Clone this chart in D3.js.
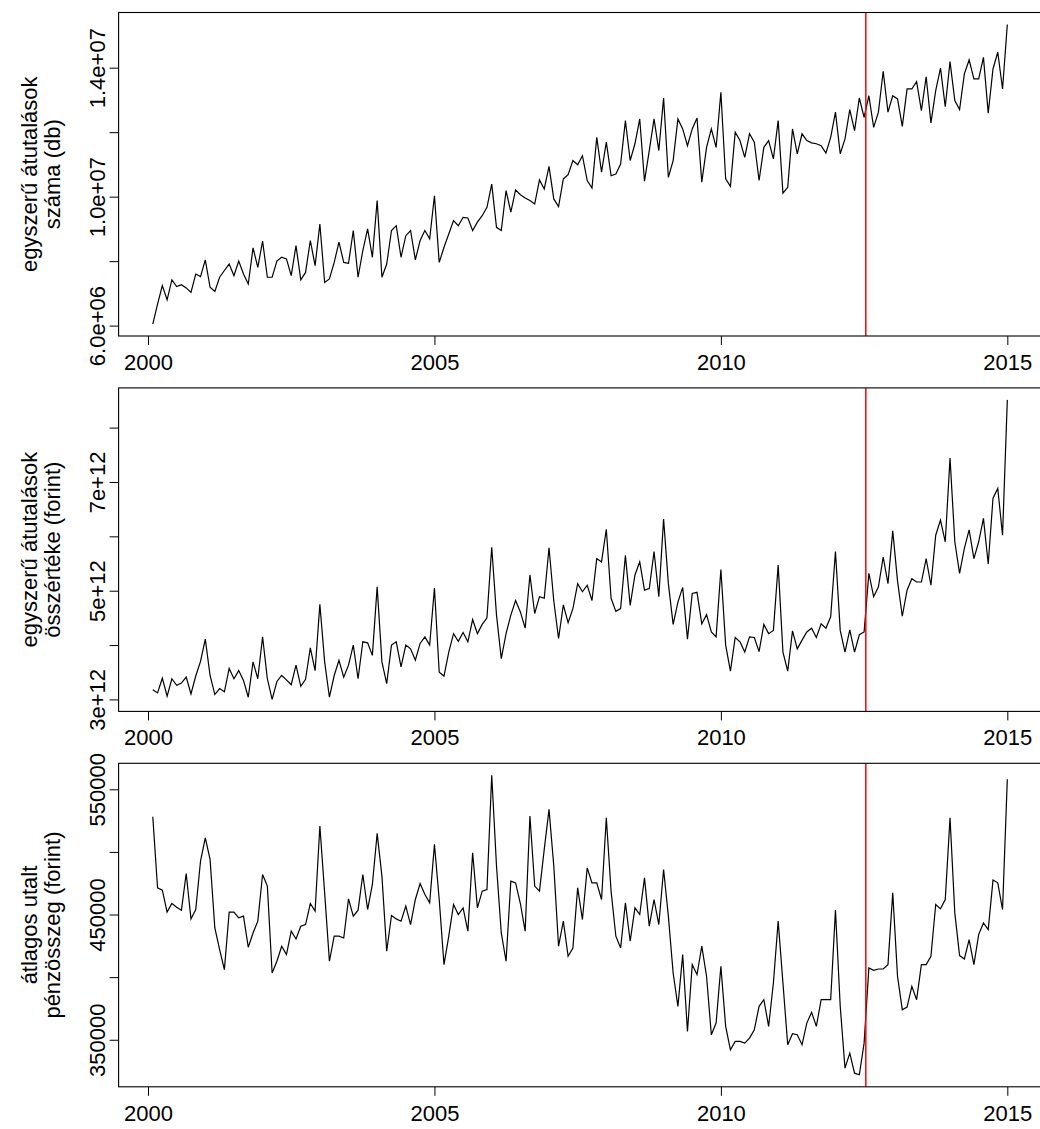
<!DOCTYPE html>
<html>
<head>
<meta charset="utf-8">
<script src="https://cdn.jsdelivr.net/npm/d3@7"></script>
<style>
body { margin: 0; background: #fff; }
svg text { font-family: "Liberation Sans", Arial, sans-serif; font-size: 22px; fill: #000; }
</style>
</head>
<body>
<div class="chart"></div>
<script>
// havi adatok, 2000 február - 2015 január
const startYear = 2000, startMonth = 2;

// egyszerű átutalások száma (millió db)
const countMillion = [
	6.05, 6.67, 7.24, 6.80, 7.42, 7.21, 7.27, 7.17, 7.03, 7.60, 7.52, 8.04,
	7.19, 7.06, 7.50, 7.71, 7.91, 7.55, 8.00, 7.60, 7.29, 8.41, 7.81, 8.62,
	7.50, 7.50, 8.00, 8.12, 8.07, 7.55, 8.48, 7.42, 7.65, 8.64, 7.86, 9.15,
	7.34, 7.45, 7.96, 8.59, 7.96, 7.93, 8.95, 7.50, 8.33, 9.00, 8.12, 9.88,
	7.50, 7.91, 8.95, 9.10, 8.12, 8.79, 8.95, 8.04, 8.64, 8.95, 8.69, 10.03,
	7.96, 8.43, 8.84, 9.26, 9.10, 9.36, 9.34, 8.95, 9.21, 9.41, 9.67, 10.39,
	9.05, 8.95, 10.19, 9.52, 10.21, 10.06, 9.96, 9.88, 9.77, 10.52, 10.24, 10.94,
	9.93, 9.69, 10.55, 10.68, 11.12, 10.99, 11.27, 10.50, 10.27, 11.84, 10.76, 11.69,
	10.65, 10.70, 11.01, 12.36, 11.12, 11.64, 12.41, 10.48, 11.43, 12.41, 11.43, 13.06,
	10.60, 11.12, 12.41, 12.10, 11.58, 12.10, 12.44, 10.45, 11.53, 12.10, 11.53, 13.24,
	10.55, 10.32, 12.00, 11.74, 11.22, 11.95, 11.69, 10.50, 11.53, 11.74, 11.17, 12.36,
	10.11, 10.29, 12.10, 11.33, 11.95, 11.74, 11.67, 11.64, 11.58, 11.35, 11.84, 12.62,
	11.33, 11.79, 12.70, 12.05, 13.06, 12.46, 13.13, 12.15, 12.62, 13.89, 12.62, 13.13,
	13.03, 12.18, 13.34, 13.34, 13.57, 12.67, 13.72, 12.29, 13.29, 13.99, 12.79, 14.19,
	12.98, 12.70, 13.81, 14.24, 13.65, 13.65, 14.32, 12.59, 13.96, 14.48, 13.34, 15.34
];

// egyszerű átutalások összértéke (ezer milliárd forint)
const sumTrillion = [
	3.18, 3.12, 3.39, 3.06, 3.38, 3.26, 3.30, 3.41, 3.10, 3.43, 3.70, 4.11,
	3.44, 3.09, 3.20, 3.14, 3.57, 3.38, 3.53, 3.35, 3.04, 3.69, 3.38, 4.15,
	3.38, 3.00, 3.33, 3.44, 3.36, 3.27, 3.63, 3.24, 3.37, 3.95, 3.53, 4.75,
	3.69, 3.04, 3.44, 3.72, 3.41, 3.63, 4.00, 3.38, 4.06, 4.04, 3.81, 5.07,
	3.69, 3.29, 4.00, 4.06, 3.60, 4.00, 3.93, 3.72, 4.03, 4.15, 4.00, 5.05,
	3.50, 3.43, 3.87, 4.21, 4.07, 4.23, 4.06, 4.47, 4.21, 4.38, 4.50, 5.80,
	4.55, 3.75, 4.21, 4.55, 4.82, 4.61, 4.31, 5.29, 4.58, 4.89, 4.86, 5.79,
	4.81, 4.12, 4.74, 4.41, 4.67, 5.13, 4.98, 5.10, 4.82, 5.59, 5.53, 6.13,
	4.86, 4.62, 4.67, 5.65, 4.73, 5.29, 5.53, 5.01, 5.04, 5.72, 4.89, 6.32,
	5.13, 4.38, 4.79, 5.06, 4.11, 4.95, 4.97, 4.39, 4.56, 4.24, 4.15, 5.39,
	4.00, 3.52, 4.14, 4.06, 3.87, 4.15, 4.14, 3.88, 4.38, 4.21, 4.27, 5.47,
	3.87, 3.52, 4.26, 3.93, 4.09, 4.24, 4.31, 4.14, 4.39, 4.31, 4.52, 5.72,
	4.27, 3.87, 4.28, 3.87, 4.19, 4.24, 5.32, 4.89, 5.07, 5.62, 5.13, 6.10,
	5.18, 4.53, 5.01, 5.22, 5.16, 5.16, 5.59, 5.10, 6.02, 6.30, 5.90, 7.44,
	5.90, 5.32, 5.78, 6.12, 5.59, 5.90, 6.33, 5.49, 6.70, 6.88, 6.02, 8.51
];

// átlagos utalt pénzösszeg (ezer forint)
const avgThousand = [
	528.1, 471.3, 469.5, 451.9, 458.8, 455.9, 453.5, 482.8, 446.5, 454.0, 492.7, 511.3,
	494.0, 439.3, 422.0, 406.0, 451.9, 451.9, 447.3, 448.7, 423.9, 435.3, 444.7, 482.0,
	472.7, 403.3, 412.7, 424.7, 418.0, 436.7, 430.5, 440.7, 442.0, 458.8, 452.7, 520.7,
	467.3, 412.7, 432.7, 432.7, 431.3, 462.5, 448.7, 453.5, 482.0, 454.0, 474.0, 514.8,
	480.7, 420.7, 449.2, 446.5, 444.7, 456.7, 442.0, 462.0, 474.8, 466.0, 459.3, 506.0,
	462.0, 410.0, 432.7, 458.0, 450.0, 455.3, 436.7, 499.3, 455.3, 468.7, 470.0, 561.2,
	488.7, 435.3, 412.7, 476.7, 475.3, 458.8, 436.7, 528.7, 472.7, 468.7, 502.0, 534.0,
	488.7, 424.7, 444.7, 416.7, 423.3, 471.3, 446.0, 487.3, 475.3, 475.3, 462.0, 527.3,
	468.7, 432.7, 423.3, 459.3, 428.7, 455.3, 450.0, 479.3, 440.7, 462.0, 442.0, 486.0,
	448.7, 403.3, 376.7, 418.0, 356.7, 410.0, 402.0, 424.7, 400.7, 354.0, 363.3, 408.7,
	360.7, 342.0, 348.7, 348.7, 347.3, 351.3, 358.0, 376.7, 382.0, 360.7, 395.3, 444.7,
	395.3, 346.0, 354.8, 354.0, 346.0, 363.3, 371.9, 360.7, 382.0, 382.0, 382.0, 453.5,
	376.7, 327.3, 339.3, 323.3, 322.0, 347.3, 407.3, 405.5, 406.5, 406.5, 410.0, 467.3,
	400.7, 374.0, 376.1, 392.7, 382.0, 410.0, 410.0, 416.7, 458.0, 454.5, 462.0, 527.3,
	451.3, 417.2, 414.5, 430.0, 410.0, 434.0, 443.3, 438.0, 477.5, 475.3, 454.0, 558.0
];

const xTicks = [2000, 2005, 2010, 2015];
const breakYear = 2012.53;

const countTicks = [6e6, 8e6, 1e7, 1.2e7, 1.4e7];
const countTickLabels = ["6.0e+06", "", "1.0e+07", "", "1.4e+07"];
const sumTicks = [3e12, 4e12, 5e12, 6e12, 7e12, 8e12];
const sumTickLabels = ["3e+12", "", "5e+12", "", "7e+12", ""];
const avgTicks = [350000, 400000, 450000, 500000, 550000];
const avgTickLabels = ["350000", "", "450000", "", "550000"];

const times = countMillion.map((d, i) => startYear + (startMonth - 1 + i) / 12);

const panels = [
	{ label: ["egyszerű átutalások", "száma (db)"], values: countMillion.map(d => d * 1e6), ticks: countTicks, tickLabels: countTickLabels },
	{ label: ["egyszerű átutalások", "összértéke (forint)"], values: sumTrillion.map(d => d * 1e12), ticks: sumTicks, tickLabels: sumTickLabels },
	{ label: ["átlagos utalt", "pénzösszeg (forint)"], values: avgThousand.map(d => d * 1e3), ticks: avgTicks, tickLabels: avgTickLabels }
];

const width = 1040;
const height = 1129;
const svg = d3.select('.chart')
	.append('svg')
	.attr('width', width)
	.attr('height', height);

const left = 118.6, right = 1041.5;
// R style 4% extension of the data range
const pad = (a, b) => [a - 0.04 * (b - a), b + 0.04 * (b - a)];

const x = d3.scaleLinear()
	.domain(pad(d3.min(times), d3.max(times)))
	.range([left, right]);

panels.forEach((p, k) => {
	const top = 12.5 + k * 375.4;
	const bottom = top + 323.5;
	const ext = d3.extent(p.values);
	const y = d3.scaleLinear()
		.domain(pad(ext[0], ext[1]))
		.range([bottom, top]);

	const g = svg.append('g');

	g.append('path')
		.datum(p.values)
		.attr('d', d3.line().x((d, i) => x(times[i])).y(d => y(d)))
		.attr('fill', 'none')
		.attr('stroke', '#000')
		.attr('stroke-width', 1.2);

	g.append('line')
		.attr('x1', x(breakYear))
		.attr('x2', x(breakYear))
		.attr('y1', top)
		.attr('y2', bottom)
		.attr('stroke', '#ff0000')
		.attr('stroke-width', 1.5);

	g.append('rect')
		.attr('x', left)
		.attr('y', top)
		.attr('width', right - left)
		.attr('height', bottom - top)
		.attr('fill', 'none')
		.attr('stroke', '#000')
		.attr('stroke-width', 1.1);

	const xAxis = g.append('g')
		.attr('transform', `translate(0,${bottom})`)
		.call(d3.axisBottom(x).tickValues(xTicks).tickFormat(d3.format('d')).tickSize(9));
	xAxis.select('.domain').remove();
	xAxis.selectAll('text')
		.attr('y', 34)
		.attr('dy', 0);

	const yAxis = g.append('g')
		.attr('transform', `translate(${left},0)`)
		.call(d3.axisLeft(y).tickValues(p.ticks).tickFormat((d, i) => p.tickLabels[i]).tickSize(9));
	yAxis.select('.domain').remove();
	yAxis.selectAll('text')
		.attr('x', 0)
		.attr('y', 0)
		.attr('dy', 0)
		.attr('text-anchor', 'middle')
		.attr('transform', `translate(${105 - left},0) rotate(-90)`);

	const mid = (top + bottom) / 2;
	g.selectAll('text.ylab')
		.data(p.label)
		.enter()
		.append('text')
		.attr('class', 'ylab')
		.attr('text-anchor', 'middle')
		.attr('transform', (d, i) => `translate(${i === 0 ? 37 : 60},${mid}) rotate(-90)`)
		.text(d => d);
});
</script>
</body>
</html>
